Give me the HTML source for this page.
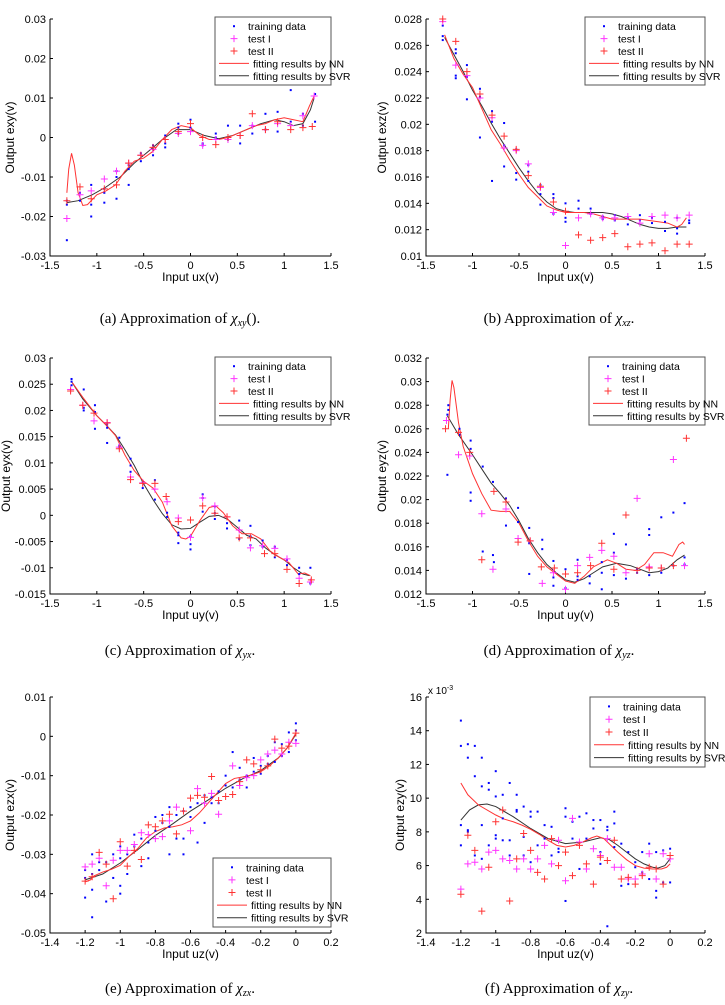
<!DOCTYPE html>
<html><head><meta charset="utf-8"><style>
body{margin:0;background:#fff}
svg text{font-family:"Liberation Sans",sans-serif}
.cap{font-family:"Liberation Serif",serif;font-size:15px}
</style></head><body>
<svg id="fig" width="725" height="1000" viewBox="0 0 725 1000" xmlns="http://www.w3.org/2000/svg"></svg>
<script>
// ---------- Panel (a) ----------
const aTrain=[[-1.32,-0.026],[-1.32,-0.017],[-1.32,-0.016],[-1.18,-0.014],[-1.18,-0.016],[-1.06,-0.012],[-1.06,-0.017],[-1.06,-0.020],[-0.92,-0.013],[-0.92,-0.0165],[-0.92,-0.014],[-0.79,-0.0085],[-0.79,-0.010],[-0.79,-0.0155],[-0.66,-0.007],[-0.66,-0.008],[-0.66,-0.012],[-0.53,-0.004],[-0.53,-0.006],[-0.4,-0.002],[-0.4,-0.003],[-0.4,-0.0045],[-0.27,0.0005],[-0.27,-0.0015],[-0.27,-0.0025],[-0.13,0.0035],[-0.13,0.0025],[-0.13,0.001],[0,0.0045],[0,0.0025],[0.13,-0.0015],[0.13,-0.002],[0.27,0.001],[0.27,0],[0.4,0.003],[0.4,-0.0005],[0.53,0.003],[0.53,-0.0015],[0.66,0.003],[0.66,0.001],[0.8,0.006],[0.8,0.002],[0.93,0.0065],[0.93,0.0015],[1.07,0.012],[1.07,0.004],[1.2,0.006],[1.2,0.003],[1.33,0.011],[1.33,0.004]];
const aTest1=[[-1.32,-0.0205],[-1.18,-0.0145],[-1.06,-0.0135],[-0.92,-0.0105],[-0.79,-0.0085],[-0.66,-0.0065],[-0.53,-0.0045],[-0.4,-0.003],[-0.27,-0.0005],[-0.13,0.001],[0,0.0015],[0.13,-0.002],[0.27,-0.0005],[0.4,-0.0005],[0.53,0.0005],[0.66,0.003],[0.8,0.002],[0.93,0.0035],[1.07,0.003],[1.2,0.0055],[1.32,0.0105]];
const aTest2=[[-1.32,-0.016],[-1.18,-0.0125],[-1.06,-0.0155],[-0.92,-0.013],[-0.79,-0.012],[-0.66,-0.0065],[-0.53,-0.0045],[-0.4,-0.0025],[-0.27,-0.0005],[-0.13,0.0015],[0,0.0035],[0.13,0],[0.27,-0.0018],[0.4,0],[0.53,0.0005],[0.66,0.006],[0.8,0.002],[0.93,0.004],[1.07,0.002],[1.2,0.0025],[1.3,0.0028]];
const aNN=[[-1.32,-0.014],[-1.3,-0.008],[-1.27,-0.004],[-1.24,-0.007],[-1.2,-0.014],[-1.15,-0.0172],[-1.1,-0.017],[-1.0,-0.0145],[-0.9,-0.0135],[-0.8,-0.012],[-0.7,-0.0085],[-0.6,-0.006],[-0.5,-0.0052],[-0.4,-0.0035],[-0.3,-0.0005],[-0.2,0.002],[-0.1,0.003],[0,0.0025],[0.1,0.0005],[0.2,-0.0005],[0.3,-0.0005],[0.4,0],[0.5,0.001],[0.6,0.002],[0.7,0.003],[0.8,0.0035],[0.9,0.0045],[1.0,0.005],[1.1,0.0045],[1.2,0.004],[1.27,0.008],[1.32,0.0105]];
const aSVR=[[-1.32,-0.0165],[-1.2,-0.016],[-1.05,-0.0145],[-0.9,-0.0125],[-0.75,-0.01],[-0.6,-0.0065],[-0.45,-0.0035],[-0.3,-0.0005],[-0.15,0.002],[0,0.002],[0.15,0.0005],[0.3,-0.0003],[0.45,0.0005],[0.6,0.002],[0.75,0.0035],[0.9,0.0045],[1.0,0.004],[1.1,0.003],[1.2,0.0035],[1.28,0.007],[1.32,0.01]];
const aXTicks=[-1.5,-1,-0.5,0,0.5,1,1.5];
const aXLabels=["-1.5","-1","-0.5","0","0.5","1","1.5"];
const aYTicks=[-0.03,-0.02,-0.01,0,0.01,0.02,0.03];
const aYLabels=["-0.03","-0.02","-0.01","0","0.01","0.02","0.03"];
// ---------- Panel (b) ----------
const bTrain=[[-1.32,0.0275],[-1.32,0.0267],[-1.32,0.0264],[-1.18,0.0257],[-1.18,0.0254],[-1.18,0.0237],[-1.18,0.0235],[-1.06,0.0245],[-1.06,0.0236],[-1.06,0.0219],[-0.92,0.0227],[-0.92,0.0221],[-0.92,0.019],[-0.79,0.021],[-0.79,0.0202],[-0.79,0.0157],[-0.66,0.0201],[-0.66,0.0184],[-0.66,0.0168],[-0.53,0.0181],[-0.53,0.0163],[-0.53,0.0158],[-0.4,0.0169],[-0.4,0.0164],[-0.4,0.0157],[-0.27,0.0154],[-0.27,0.0147],[-0.27,0.0139],[-0.13,0.0147],[-0.13,0.0144],[-0.13,0.0132],[0,0.014],[0,0.0129],[0,0.0126],[0.14,0.0142],[0.14,0.0136],[0.27,0.0136],[0.27,0.0132],[0.4,0.013],[0.4,0.0128],[0.53,0.0131],[0.53,0.0127],[0.67,0.0129],[0.67,0.0124],[0.8,0.0131],[0.8,0.0127],[0.93,0.0129],[0.93,0.0125],[1.07,0.0126],[1.07,0.0119],[1.2,0.0129],[1.2,0.0121],[1.2,0.0117],[1.33,0.0127],[1.33,0.0125]];
const bTest1=[[-1.32,0.0278],[-1.18,0.0245],[-1.06,0.0237],[-0.92,0.022],[-0.79,0.0205],[-0.66,0.0182],[-0.53,0.018],[-0.4,0.017],[-0.27,0.0152],[-0.13,0.0133],[0,0.0108],[0.14,0.0129],[0.27,0.0132],[0.4,0.0129],[0.53,0.0129],[0.67,0.013],[0.8,0.0125],[0.93,0.013],[1.07,0.0131],[1.2,0.0129],[1.33,0.0131]];
const bTest2=[[-1.32,0.028],[-1.18,0.0263],[-1.06,0.024],[-0.92,0.0223],[-0.79,0.0207],[-0.66,0.0191],[-0.53,0.0181],[-0.4,0.0161],[-0.27,0.0153],[-0.13,0.0141],[0,0.0134],[0.14,0.0116],[0.27,0.0112],[0.4,0.0114],[0.53,0.0117],[0.67,0.0107],[0.8,0.0109],[0.93,0.011],[1.07,0.0104],[1.2,0.0109],[1.33,0.0109]];
const bNN=[[-1.3,0.0268],[-1.2,0.025],[-1.1,0.0238],[-1.0,0.0228],[-0.9,0.0212],[-0.8,0.0196],[-0.7,0.0185],[-0.6,0.0173],[-0.5,0.0162],[-0.4,0.0152],[-0.3,0.0145],[-0.2,0.0138],[-0.1,0.0135],[0,0.0133],[0.1,0.0133],[0.2,0.0133],[0.3,0.0132],[0.4,0.013],[0.5,0.0128],[0.6,0.0128],[0.7,0.0128],[0.8,0.0128],[0.9,0.0127],[1.0,0.0126],[1.1,0.0125],[1.2,0.0122],[1.25,0.0124],[1.3,0.0129]];
const bSVR=[[-1.3,0.0266],[-1.2,0.0253],[-1.1,0.024],[-1.0,0.0226],[-0.9,0.0214],[-0.8,0.0201],[-0.7,0.0189],[-0.6,0.0178],[-0.5,0.0167],[-0.4,0.0157],[-0.3,0.0148],[-0.2,0.0141],[-0.1,0.0136],[0,0.0134],[0.1,0.0133],[0.2,0.0133],[0.3,0.0133],[0.4,0.0133],[0.5,0.0132],[0.6,0.013],[0.7,0.0127],[0.8,0.0124],[0.9,0.0122],[1.0,0.0121],[1.1,0.0121],[1.2,0.0122],[1.3,0.0122]];
const bYTicks=[0.01,0.012,0.014,0.016,0.018,0.02,0.022,0.024,0.026,0.028];
const bYLabels=["0.01","0.012","0.014","0.016","0.018","0.02","0.022","0.024","0.026","0.028"];
// ---------- Panel (c) ----------
const cTrain=[[-1.27,0.026],[-1.27,0.0255],[-1.27,0.0248],[-1.14,0.024],[-1.14,0.0205],[-1.14,0.02],[-1.02,0.021],[-1.02,0.0197],[-1.02,0.0165],[-0.89,0.0173],[-0.89,0.0167],[-0.89,0.0138],[-0.76,0.0148],[-0.76,0.0133],[-0.76,0.013],[-0.64,0.0108],[-0.64,0.0095],[-0.64,0.0083],[-0.51,0.0063],[-0.51,0.0052],[-0.38,0.0067],[-0.38,0.003],[-0.25,0.0005],[-0.25,-0.0003],[-0.13,-0.0033],[-0.13,-0.0038],[-0.13,-0.0053],[0,-0.004],[0,-0.0055],[0,-0.0065],[0.13,0.004],[0.13,0.0033],[0.13,0.0007],[0.26,0.0017],[0.26,0.0004],[0.26,-0.0007],[0.39,-0.0015],[0.39,-0.0025],[0.52,-0.001],[0.52,-0.0045],[0.64,-0.002],[0.64,-0.0057],[0.64,-0.004],[0.77,-0.0048],[0.77,-0.006],[0.9,-0.006],[0.9,-0.008],[1.03,-0.0095],[1.03,-0.0085],[1.16,-0.01],[1.16,-0.0112],[1.28,-0.01],[1.28,-0.013]];
const cTest1=[[-1.28,0.024],[-1.15,0.021],[-1.03,0.018],[-0.89,0.0177],[-0.76,0.013],[-0.64,0.0073],[-0.51,0.0062],[-0.38,0.005],[-0.25,0.0026],[-0.13,-0.0005],[0,-0.0042],[0.13,0.0033],[0.26,0.0018],[0.39,-0.0003],[0.52,-0.0028],[0.64,-0.0062],[0.77,-0.0058],[0.9,-0.0063],[1.03,-0.0083],[1.16,-0.012],[1.28,-0.0127]];
const cTest2=[[-1.28,0.0237],[-1.15,0.021],[-1.03,0.0195],[-0.89,0.0176],[-0.76,0.0127],[-0.64,0.0068],[-0.51,0.0061],[-0.38,0.0061],[-0.26,0.0036],[-0.13,-0.0012],[0,-0.0009],[0.13,0.0018],[0.26,0.0004],[0.39,-0.0003],[0.52,-0.0043],[0.64,-0.0043],[0.79,-0.0073],[0.9,-0.0073],[1.03,-0.0103],[1.16,-0.013],[1.29,-0.0123]];
const cNN=[[-1.27,0.0255],[-1.15,0.0225],[-1.0,0.019],[-0.9,0.0172],[-0.8,0.0152],[-0.7,0.0115],[-0.6,0.0085],[-0.5,0.0065],[-0.4,0.0052],[-0.3,0.0025],[-0.2,-0.002],[-0.1,-0.0043],[-0.05,-0.0045],[0,-0.004],[0.1,-0.001],[0.2,0.0015],[0.27,0.0018],[0.35,0.0005],[0.45,-0.002],[0.55,-0.0035],[0.65,-0.0035],[0.75,-0.0045],[0.85,-0.0068],[0.95,-0.008],[1.05,-0.009],[1.15,-0.0112],[1.22,-0.011],[1.28,-0.0115]];
const cSVR=[[-1.27,0.0255],[-1.15,0.0222],[-1.0,0.019],[-0.9,0.0172],[-0.8,0.0153],[-0.7,0.0125],[-0.6,0.0095],[-0.5,0.006],[-0.4,0.003],[-0.3,0.0003],[-0.2,-0.0018],[-0.1,-0.0026],[0,-0.0025],[0.1,-0.0013],[0.2,-0.0002],[0.3,0],[0.4,-0.0008],[0.5,-0.0023],[0.6,-0.0038],[0.7,-0.0045],[0.8,-0.0062],[0.9,-0.0075],[1.0,-0.0085],[1.1,-0.01],[1.2,-0.0112],[1.27,-0.0115]];
const cYTicks=[-0.015,-0.01,-0.005,0,0.005,0.01,0.015,0.02,0.025,0.03];
const cYLabels=["-0.015","-0.01","-0.005","0","0.005","0.01","0.015","0.02","0.025","0.03"];
// ---------- Panel (d) ----------
const dTrain=[[-1.27,0.0221],[-1.27,0.0272],[-1.26,0.028],[-1.26,0.0276],[-1.14,0.026],[-1.14,0.0255],[-1.02,0.025],[-1.02,0.0243],[-1.02,0.0206],[-1.02,0.0199],[-0.89,0.0228],[-0.89,0.0156],[-0.78,0.0215],[-0.78,0.0153],[-0.77,0.0147],[-0.64,0.0201],[-0.64,0.0178],[-0.51,0.0193],[-0.51,0.0181],[-0.39,0.0176],[-0.39,0.0163],[-0.39,0.0137],[-0.25,0.0166],[-0.25,0.0158],[-0.13,0.0148],[-0.13,0.0134],[-0.13,0.0127],[0,0.0141],[0,0.0125],[0.13,0.0149],[0.13,0.0135],[0.13,0.0132],[0.26,0.0135],[0.26,0.0129],[0.39,0.0147],[0.39,0.0138],[0.39,0.0124],[0.52,0.0171],[0.52,0.0155],[0.52,0.0136],[0.65,0.0162],[0.65,0.0133],[0.77,0.0141],[0.77,0.0138],[0.9,0.0175],[0.9,0.017],[0.9,0.0136],[1.03,0.0185],[1.03,0.0138],[1.16,0.0189],[1.16,0.0144],[1.28,0.0197],[1.28,0.0151],[1.28,0.0145]];
const dTest1=[[-1.28,0.0267],[-1.15,0.0238],[-1.03,0.0237],[-0.9,0.0188],[-0.78,0.0141],[-0.64,0.0192],[-0.51,0.0167],[-0.38,0.0165],[-0.25,0.0129],[-0.13,0.0138],[0,0.0124],[0.13,0.0144],[0.26,0.0151],[0.39,0.0157],[0.52,0.0152],[0.65,0.0138],[0.77,0.0201],[0.9,0.0143],[1.03,0.0142],[1.16,0.0234],[1.28,0.0144]];
const dTest2=[[-1.29,0.026],[-1.15,0.0257],[-1.03,0.024],[-0.9,0.0149],[-0.77,0.0207],[-0.64,0.0198],[-0.51,0.0164],[-0.38,0.0165],[-0.26,0.0143],[-0.12,0.0142],[0,0.0137],[0.13,0.0138],[0.27,0.0144],[0.39,0.0163],[0.52,0.0141],[0.65,0.0187],[0.77,0.014],[0.9,0.0142],[1.03,0.0142],[1.16,0.0144],[1.3,0.0252]];
const dNN=[[-1.26,0.026],[-1.24,0.0285],[-1.22,0.0301],[-1.2,0.0295],[-1.15,0.0265],[-1.1,0.0245],[-1.0,0.0222],[-0.9,0.0205],[-0.8,0.0191],[-0.7,0.019],[-0.6,0.019],[-0.5,0.018],[-0.4,0.0165],[-0.3,0.0152],[-0.2,0.0143],[-0.1,0.0137],[0,0.0131],[0.1,0.0129],[0.2,0.0135],[0.3,0.0143],[0.45,0.0149],[0.55,0.0146],[0.65,0.0141],[0.75,0.014],[0.85,0.0145],[0.95,0.0155],[1.05,0.0155],[1.15,0.0152],[1.22,0.0162],[1.26,0.0164],[1.28,0.0162]];
const dSVR=[[-1.27,0.0271],[-1.15,0.0255],[-1.0,0.0238],[-0.9,0.0226],[-0.8,0.0214],[-0.7,0.0205],[-0.6,0.0195],[-0.5,0.0182],[-0.4,0.0167],[-0.3,0.0155],[-0.2,0.0145],[-0.1,0.0138],[0,0.0132],[0.1,0.013],[0.2,0.0133],[0.3,0.0138],[0.4,0.0143],[0.55,0.0146],[0.7,0.0144],[0.8,0.0141],[0.9,0.0138],[1.0,0.0139],[1.1,0.0142],[1.2,0.0149],[1.28,0.0153]];
const dYTicks=[0.012,0.014,0.016,0.018,0.02,0.022,0.024,0.026,0.028,0.03,0.032];
const dYLabels=["0.012","0.014","0.016","0.018","0.02","0.022","0.024","0.026","0.028","0.03","0.032"];
// ---------- Panel (e) ----------
const eTrain=[[-1.2,-0.034],[-1.2,-0.036],[-1.2,-0.041],[-1.16,-0.03],[-1.16,-0.035],[-1.16,-0.039],[-1.16,-0.046],[-1.12,-0.032],[-1.12,-0.034],[-1.08,-0.032],[-1.08,-0.042],[-1.04,-0.03],[-1.04,-0.036],[-1.0,-0.028],[-1.0,-0.031],[-1.0,-0.038],[-1.0,-0.04],[-0.96,-0.03],[-0.96,-0.035],[-0.92,-0.025],[-0.92,-0.028],[-0.88,-0.026],[-0.88,-0.033],[-0.84,-0.027],[-0.84,-0.031],[-0.8,-0.0205],[-0.8,-0.024],[-0.76,-0.02],[-0.76,-0.022],[-0.72,-0.018],[-0.72,-0.023],[-0.72,-0.03],[-0.68,-0.02],[-0.68,-0.026],[-0.64,-0.019],[-0.64,-0.026],[-0.64,-0.03],[-0.6,-0.018],[-0.6,-0.0205],[-0.56,-0.017],[-0.56,-0.027],[-0.52,-0.015],[-0.52,-0.022],[-0.48,-0.017],[-0.48,-0.0155],[-0.44,-0.014],[-0.44,-0.017],[-0.4,-0.01],[-0.4,-0.0125],[-0.36,-0.004],[-0.36,-0.013],[-0.32,-0.011],[-0.32,-0.008],[-0.28,-0.01],[-0.28,-0.013],[-0.24,-0.0055],[-0.24,-0.009],[-0.2,-0.0075],[-0.2,-0.0095],[-0.16,-0.005],[-0.16,-0.007],[-0.12,-0.0015],[-0.12,-0.0065],[-0.08,-0.002],[-0.08,-0.005],[-0.04,0.001],[-0.04,-0.004],[0,0.0033],[0,0.0015],[0,-0.001]];
const eTest1=[[-1.2,-0.0332],[-1.16,-0.0325],[-1.12,-0.031],[-1.08,-0.038],[-1.04,-0.0315],[-1.0,-0.029],[-0.96,-0.029],[-0.92,-0.0275],[-0.88,-0.0245],[-0.84,-0.025],[-0.8,-0.026],[-0.76,-0.0255],[-0.72,-0.0215],[-0.68,-0.018],[-0.6,-0.024],[-0.56,-0.0133],[-0.52,-0.017],[-0.48,-0.0145],[-0.44,-0.0198],[-0.36,-0.0075],[-0.32,-0.0125],[-0.28,-0.0105],[-0.24,-0.01],[-0.2,-0.006],[-0.16,-0.0045],[-0.12,-0.0035],[-0.08,-0.0045],[-0.04,-0.0015],[0,-0.0018]];
const eTest2=[[-1.2,-0.0368],[-1.16,-0.0357],[-1.12,-0.0295],[-1.08,-0.0325],[-1.04,-0.0413],[-1.0,-0.0268],[-0.96,-0.033],[-0.92,-0.029],[-0.88,-0.0313],[-0.84,-0.0225],[-0.8,-0.023],[-0.76,-0.0215],[-0.72,-0.0198],[-0.68,-0.0248],[-0.64,-0.019],[-0.6,-0.0157],[-0.56,-0.015],[-0.52,-0.0155],[-0.48,-0.0102],[-0.44,-0.0163],[-0.4,-0.0153],[-0.36,-0.0148],[-0.32,-0.0115],[-0.28,-0.006],[-0.24,-0.007],[-0.2,-0.0085],[-0.16,-0.0075],[-0.12,-0.0007],[-0.08,-0.003],[-0.04,-0.0025],[0,0.0008]];
const eNN=[[-1.2,-0.037],[-1.17,-0.0365],[-1.15,-0.0355],[-1.1,-0.0345],[-1.05,-0.0338],[-1.0,-0.0328],[-0.95,-0.0305],[-0.9,-0.0285],[-0.85,-0.0258],[-0.8,-0.0242],[-0.75,-0.0233],[-0.7,-0.023],[-0.65,-0.0225],[-0.6,-0.0215],[-0.55,-0.0195],[-0.5,-0.017],[-0.45,-0.0145],[-0.4,-0.012],[-0.35,-0.0107],[-0.3,-0.0103],[-0.25,-0.0098],[-0.2,-0.009],[-0.15,-0.0075],[-0.1,-0.0055],[-0.05,-0.003],[0,0.0008]];
const eSVR=[[-1.2,-0.0365],[-1.1,-0.035],[-1.0,-0.0322],[-0.9,-0.0288],[-0.8,-0.0252],[-0.7,-0.0222],[-0.6,-0.019],[-0.5,-0.0162],[-0.4,-0.0132],[-0.3,-0.0107],[-0.2,-0.0087],[-0.1,-0.0055],[-0.05,-0.003],[0,0.0005]];
const eXTicks=[-1.4,-1.2,-1,-0.8,-0.6,-0.4,-0.2,0,0.2];
const eXLabels=["-1.4","-1.2","-1","-0.8","-0.6","-0.4","-0.2","0","0.2"];
const eYTicks=[-0.05,-0.04,-0.03,-0.02,-0.01,0,0.01];
const eYLabels=["-0.05","-0.04","-0.03","-0.02","-0.01","0","0.01"];
// ---------- Panel (f) (values x 1e-3) ----------
const fTrain=[[-1.2,14.6],[-1.2,13.1],[-1.2,8.4],[-1.2,7.2],[-1.16,13.2],[-1.16,12.4],[-1.16,8.1],[-1.16,8.0],[-1.12,13.1],[-1.12,11.3],[-1.12,6.6],[-1.08,12.4],[-1.08,10.7],[-1.08,8.4],[-1.08,6.4],[-1.04,10.9],[-1.04,10.5],[-1.04,7.2],[-1.0,11.6],[-1.0,10.1],[-1.0,7.8],[-1.0,7.6],[-0.96,10.2],[-0.96,8.8],[-0.96,7.5],[-0.92,10.9],[-0.92,7.5],[-0.92,6.6],[-0.88,10.2],[-0.88,9.3],[-0.88,9.2],[-0.84,9.5],[-0.84,7.7],[-0.84,6.6],[-0.8,9.2],[-0.8,8.9],[-0.8,6.2],[-0.76,9.2],[-0.76,7.2],[-0.72,8.4],[-0.72,7.6],[-0.68,8.3],[-0.68,6.6],[-0.64,7.0],[-0.64,6.8],[-0.6,9.4],[-0.6,8.9],[-0.6,3.9],[-0.56,8.6],[-0.56,7.6],[-0.52,8.9],[-0.52,5.8],[-0.48,9.1],[-0.48,7.6],[-0.44,8.7],[-0.44,8.2],[-0.4,8.7],[-0.4,6.8],[-0.4,6.1],[-0.36,8.3],[-0.36,8.1],[-0.36,2.4],[-0.32,9.2],[-0.32,8.5],[-0.32,7.1],[-0.28,7.3],[-0.28,4.8],[-0.24,6.8],[-0.24,4.9],[-0.2,6.2],[-0.2,5.9],[-0.16,6.8],[-0.16,5.6],[-0.12,7.3],[-0.12,5.2],[-0.08,6.8],[-0.08,4.5],[-0.08,4.1],[-0.04,6.9],[-0.04,5.0],[0,7.0],[0,5.0]];
const fTest1=[[-1.2,4.6],[-1.16,6.1],[-1.12,6.2],[-1.08,5.8],[-1.04,6.8],[-1.0,6.9],[-0.96,6.4],[-0.92,6.3],[-0.88,5.8],[-0.84,6.4],[-0.8,5.8],[-0.76,6.4],[-0.72,7.2],[-0.68,6.1],[-0.64,7.5],[-0.6,5.1],[-0.56,8.8],[-0.52,7.4],[-0.48,5.8],[-0.44,7.0],[-0.4,6.6],[-0.36,7.6],[-0.32,5.9],[-0.28,5.9],[-0.24,5.2],[-0.2,5.2],[-0.16,5.5],[-0.12,6.7],[-0.08,5.2],[-0.04,6.7],[0,6.4]];
const fTest2=[[-1.2,4.3],[-1.16,7.8],[-1.12,6.9],[-1.08,3.3],[-1.04,5.9],[-1.0,8.6],[-0.96,9.3],[-0.92,3.9],[-0.88,6.4],[-0.84,7.9],[-0.8,6.9],[-0.76,5.6],[-0.72,5.2],[-0.68,7.6],[-0.64,6.0],[-0.6,6.8],[-0.56,5.4],[-0.52,7.2],[-0.48,6.1],[-0.44,4.9],[-0.4,6.5],[-0.36,6.3],[-0.32,7.5],[-0.28,5.2],[-0.24,5.3],[-0.2,4.9],[-0.16,5.4],[-0.12,5.9],[-0.08,5.8],[-0.04,4.9],[0,6.6]];
const fNN=[[-1.2,10.9],[-1.16,10.2],[-1.1,9.6],[-1.0,9.0],[-0.95,8.75],[-0.9,8.6],[-0.85,8.4],[-0.8,8.15],[-0.75,7.85],[-0.7,7.5],[-0.65,7.2],[-0.6,7.1],[-0.55,7.2],[-0.5,7.4],[-0.45,7.65],[-0.42,7.75],[-0.38,7.6],[-0.34,7.2],[-0.3,6.8],[-0.25,6.35],[-0.2,6.0],[-0.15,5.85],[-0.1,5.8],[-0.05,5.8],[-0.02,5.9],[0,6.1]];
const fSVR=[[-1.2,8.7],[-1.15,9.3],[-1.1,9.6],[-1.05,9.65],[-1.0,9.5],[-0.9,8.9],[-0.8,8.2],[-0.7,7.6],[-0.6,7.3],[-0.5,7.4],[-0.4,7.65],[-0.35,7.55],[-0.3,7.2],[-0.25,6.8],[-0.2,6.4],[-0.15,6.1],[-0.1,5.9],[-0.07,5.85],[-0.03,6.0],[0,6.4]];
const fYTicks=[2,4,6,8,10,12,14,16];
const fYLabels=["2","4","6","8","10","12","14","16"];
const legendLabels=["training data","test I","test II","fitting results by NN","fitting results by SVR"];

const NS="http://www.w3.org/2000/svg";
const svg=document.getElementById('fig');
function mk(tag,attrs,parent){const e=document.createElementNS(NS,tag);for(const k in attrs)e.setAttribute(k,attrs[k]);(parent||svg).appendChild(e);return e;}
function plus(g,x,y,col){
  return mk('path',{d:`M${x-3.5},${y}H${x+3.5}M${x},${y-3.5}V${y+3.5}`,stroke:col,'stroke-width':1,fill:'none'},g);
}
function panel(P){
  const g=mk('g',{});
  
  
  const sx=v=>P.x0+(v-P.xmin)/(P.xmax-P.xmin)*(P.x1-P.x0);
  const sy=v=>P.y1-(v-P.ymin)/(P.ymax-P.ymin)*(P.y1-P.y0);
  const ax=mk('path',{d:`M${P.x0},${P.y0}V${P.y1}H${P.x1}`,stroke:'#000','stroke-width':1,fill:'none'},g);
  
  
  P.xt.forEach((t,i)=>{
    const x=sx(t);
    mk('line',{x1:x,x2:x,y1:P.y1,y2:P.y1-3,stroke:'#000'},g);
    const tx=mk('text',{x:x,y:P.y1+13,'font-size':11,'text-anchor':'middle'},g);
    tx.textContent=P.xl[i];
    
    
  });
  P.yt.forEach((t,i)=>{
    const y=sy(t);
    mk('line',{x1:P.x0,x2:P.x0+3,y1:y,y2:y,stroke:'#000'},g);
    const tx=mk('text',{x:P.x0-4,y:y+4,'font-size':11,'text-anchor':'end'},g);
    tx.textContent=P.yl[i];
    
    
  });
  const xt=mk('text',{x:(P.x0+P.x1)/2,y:P.y1+25,'font-size':12,'text-anchor':'middle'},g);
  xt.textContent=P.xlabel;
  
  
  const yx=P.x0-P.ylabOff, yy=(P.y0+P.y1)/2;
  const yt=mk('text',{x:yx,y:yy,'font-size':12,'text-anchor':'middle',transform:`rotate(-90 ${yx} ${yy})`},g);
  yt.textContent=P.ylabel;
  
  
  if(P.exp){
    const ex=mk('text',{x:P.x0+2,y:P.y0-3,'font-size':10},g);
    ex.innerHTML='x 10<tspan dy="-4" font-size="7">-3</tspan>';
    
    
  }
  const line=(d,col,nm)=>{const p=mk('polyline',{points:d.map(q=>sx(q[0])+','+sy(q[1])).join(' '),stroke:col,'stroke-width':1,fill:'none'},g);
    };
  line(P.svr,'#333','svr-fit-line');
  line(P.nn,'#ff3333','nn-fit-line');
  P.train.forEach(q=>{const r=mk('rect',{x:sx(q[0])-1,y:sy(q[1])-1,width:2,height:2,fill:'#0000ff'},g);
    });
  P.t1.forEach(q=>{const p=plus(g,sx(q[0]),sy(q[1]),'#ff33ff');
    });
  P.t2.forEach(q=>{const p=plus(g,sx(q[0]),sy(q[1]),'#ff3333');
    });
  const L=P.leg;
  const lg=mk('g',{},g);
  
  
  mk('rect',{x:L[0],y:L[1],width:L[2]-L[0],height:L[3]-L[1],fill:'#fff',stroke:'#555','stroke-width':1},lg);
  const rh=(L[3]-L[1]-6)/5;
  legendLabels.forEach((s,i)=>{
    const cy=L[1]+3+rh*(i+0.5);
    const mx=L[0]+19;
    if(i==0)mk('rect',{x:mx-1,y:cy-1,width:2,height:2,fill:'#0000ff'},lg);
    if(i==1)plus(lg,mx,cy,'#ff33ff');
    if(i==2)plus(lg,mx,cy,'#ff3333');
    if(i==3)mk('line',{x1:L[0]+4,x2:L[0]+34,y1:cy,y2:cy,stroke:'#ff3333'},lg);
    if(i==4)mk('line',{x1:L[0]+4,x2:L[0]+34,y1:cy,y2:cy,stroke:'#333'},lg);
    const t=mk('text',{x:i<3?L[0]+33:L[0]+38,y:cy+4,'font-size':10.5},lg);
    t.textContent=s;
    
    
  });
  const c=mk('text',{x:P.capX,y:P.capY,'text-anchor':'middle',class:'cap'},g);
  c.innerHTML=`(${P.letter})  Approximation of <tspan font-style="italic">χ</tspan><tspan font-style="italic" font-size="10" dy="3">${P.sub}</tspan><tspan dy="-3">${P.tail}</tspan>`;
  
  
}
panel({name:'panel-a',letter:'a',sub:'xy',tail:'().',x0:50,x1:331,y0:19,y1:256,xmin:-1.5,xmax:1.5,ymin:-0.03,ymax:0.03,xt:aXTicks,xl:aXLabels,yt:aYTicks,yl:aYLabels,xlabel:'Input ux(v)',ylabel:'Output exy(v)',ylabOff:36,train:aTrain,t1:aTest1,t2:aTest2,nn:aNN,svr:aSVR,leg:[215,17,331,85],capX:180,capY:323});
panel({name:'panel-b',letter:'b',sub:'xz',tail:'.',x0:426,x1:705,y0:19,y1:256,xmin:-1.5,xmax:1.5,ymin:0.01,ymax:0.028,xt:aXTicks,xl:aXLabels,yt:bYTicks,yl:bYLabels,xlabel:'Input ux(v)',ylabel:'Output exz(v)',ylabOff:40,train:bTrain,t1:bTest1,t2:bTest2,nn:bNN,svr:bSVR,leg:[585,17,705,85],capX:559,capY:323});
panel({name:'panel-c',letter:'c',sub:'yx',tail:'.',x0:50,x1:331,y0:358,y1:594,xmin:-1.5,xmax:1.5,ymin:-0.015,ymax:0.03,xt:aXTicks,xl:aXLabels,yt:cYTicks,yl:cYLabels,xlabel:'Input uy(v)',ylabel:'Output eyx(v)',ylabOff:40,train:cTrain,t1:cTest1,t2:cTest2,nn:cNN,svr:cSVR,leg:[215,357,331,425],capX:180,capY:655});
panel({name:'panel-d',letter:'d',sub:'yz',tail:'.',x0:426,x1:705,y0:358,y1:594,xmin:-1.5,xmax:1.5,ymin:0.012,ymax:0.032,xt:aXTicks,xl:aXLabels,yt:dYTicks,yl:dYLabels,xlabel:'Input uy(v)',ylabel:'Output eyz(v)',ylabOff:40,train:dTrain,t1:dTest1,t2:dTest2,nn:dNN,svr:dSVR,leg:[589,357,705,425],capX:559,capY:655});
panel({name:'panel-e',letter:'e',sub:'zx',tail:'.',x0:50,x1:331,y0:697,y1:933,xmin:-1.4,xmax:0.2,ymin:-0.05,ymax:0.01,xt:eXTicks,xl:eXLabels,yt:eYTicks,yl:eYLabels,xlabel:'Input uz(v)',ylabel:'Output ezx(v)',ylabOff:36,train:eTrain,t1:eTest1,t2:eTest2,nn:eNN,svr:eSVR,leg:[213,858,331,927],capX:180,capY:993});
panel({name:'panel-f',letter:'f',sub:'zy',tail:'.',x0:426,x1:705,y0:697,y1:933,xmin:-1.4,xmax:0.2,ymin:2,ymax:16,xt:eXTicks,xl:eXLabels,yt:fYTicks,yl:fYLabels,xlabel:'Input uz(v)',ylabel:'Output ezy(v)',ylabOff:22,exp:true,train:fTrain,t1:fTest1,t2:fTest2,nn:fNN,svr:fSVR,leg:[590,697,705,767],capX:559,capY:993});
</script>
</body></html>
